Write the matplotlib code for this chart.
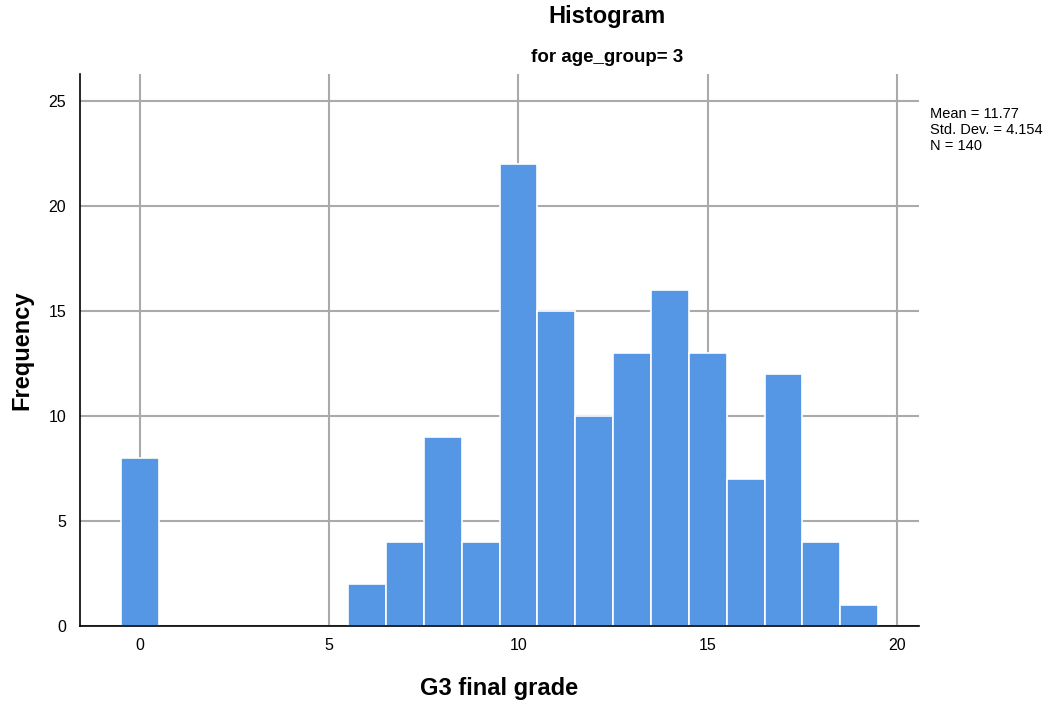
import matplotlib.pyplot as plt

# ======= Data: G3 final grade counts for age_group = 3 =======
grades = [0, 6, 7, 8, 9, 10, 11, 12, 13, 14, 15, 16, 17, 18, 19]
counts = [8, 2, 4, 9, 4, 22, 15, 10, 13, 16, 13, 7, 12, 4, 1]
x_ticks = [0, 5, 10, 15, 20]
y_ticks = [0, 5, 10, 15, 20, 25]
stats_text = "Mean = 11.77\nStd. Dev. = 4.154\nN = 140"

plt.rcParams['font.family'] = ['Liberation Sans', 'DejaVu Sans']

fig = plt.figure(figsize=(10.57, 7.04), dpi=100)
ax = fig.add_axes([80 / 1057, 78 / 704, 839 / 1057, 552 / 704])

# ======= Bars =======
ax.bar(grades, counts, width=1.0, color='#5597e5', edgecolor='white',
       linewidth=1.2, zorder=3)

ax.set_xlim(-1.58, 20.58)
ax.set_ylim(0, 26.3)
ax.set_xticks(x_ticks)
ax.set_yticks(y_ticks)
ax.tick_params(length=0, labelsize=11.5, pad=9)
ax.tick_params(axis='y', pad=10)
ax.grid(True, color='#aaaaaa', linewidth=1.5, zorder=0)

for side in ['top', 'right']:
    ax.spines[side].set_visible(False)
for side in ['left', 'bottom']:
    ax.spines[side].set_color('black')
    ax.spines[side].set_linewidth(1.2)
    ax.spines[side].set_zorder(4)

# ======= Labels, titles and stats =======
fig.text(499 / 1057, 1 - 688 / 704, "G3 final grade", ha='center', va='center',
         fontsize=17, fontweight='bold')
fig.text(22 / 1057, 1 - 350 / 704, "Frequency", ha='center', va='center',
         rotation=90, fontsize=17, fontweight='bold')
fig.text(607 / 1057, 1 - 17 / 704, "Histogram", ha='center', va='center',
         fontsize=17, fontweight='bold')
fig.text(607 / 1057, 1 - 57 / 704, "for age_group= 3", ha='center', va='center',
         fontsize=13.5, fontweight='bold')
fig.text(930 / 1057, 1 - 107 / 704, stats_text, ha='left', va='top',
         fontsize=10.5, linespacing=1.2)

plt.savefig("out.png", dpi=100)
plt.close()
